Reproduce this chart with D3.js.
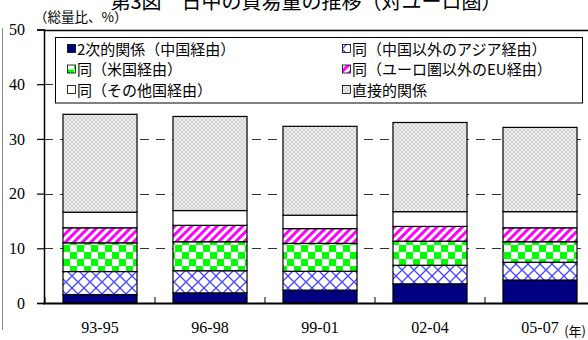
<!DOCTYPE html>
<html><head><meta charset="utf-8">
<script src="https://cdn.jsdelivr.net/npm/d3@7"></script>
<style>body{margin:0;background:#fff}svg{display:block}</style>
</head><body><svg id="chart" width="588" height="340"></svg>
<script>
// Trade volume shares by period (% of total)
const periods = ["93-95", "96-98", "99-01", "02-04", "05-07"];
const seriesNames = ["2次的関係（中国経由）", "同（中国以外のアジア経由）", "同（米国経由）",
  "同（ユーロ圏以外のEU経由）", "同（その他国経由）", "直接的関係"];
const viaChina     = [1.55, 1.85, 2.35, 3.5, 4.2];
const viaAsia      = [4.2, 4.05, 3.45, 3.4, 3.25];
const viaUS        = [5.25, 5.3, 5.1, 4.4, 3.75];
const viaNonEuroEU = [2.75, 3.0, 2.7, 2.7, 2.55];
const viaOther     = [2.85, 2.7, 2.45, 2.7, 2.95];
const direct       = [17.9, 17.2, 16.25, 16.3, 15.4];
const yTicks = [0, 10, 20, 30, 40, 50];

const seriesValues = [viaChina, viaAsia, viaUS, viaNonEuroEU, viaOther, direct];
const keys = ["china", "asia", "us", "eu", "other", "direct"];
const rows = periods.map((p, i) => {
  const r = {period: p};
  keys.forEach((k, j) => r[k] = seriesValues[j][i]);
  return r;
});

const SERIF = "'Liberation Serif', 'Times New Roman', serif";
const JP = "'Noto Sans CJK JP', 'Noto Sans', sans-serif";

const svg = d3.select("#chart");
const defs = svg.append("defs");

// fill patterns
const pAsia = defs.append("pattern").attr("id", "f-asia").attr("patternUnits", "userSpaceOnUse")
  .attr("width", 12).attr("height", 12);
pAsia.append("rect").attr("width", 12).attr("height", 12).attr("fill", "#fff");
pAsia.append("path").attr("d", "M0,0L12,12M12,0L0,12M-1,11L1,13M11,-1L13,1")
  .attr("stroke", "#4646ff").attr("stroke-width", 1.3).attr("fill", "none");

const pUS = defs.append("pattern").attr("id", "f-us").attr("patternUnits", "userSpaceOnUse")
  .attr("width", 14).attr("height", 14);
pUS.append("rect").attr("width", 14).attr("height", 14).attr("fill", "#fff");
pUS.append("rect").attr("width", 7).attr("height", 7).attr("fill", "#00ff00");
pUS.append("rect").attr("x", 7).attr("y", 7).attr("width", 7).attr("height", 7).attr("fill", "#00ff00");

const pEU = defs.append("pattern").attr("id", "f-eu").attr("patternUnits", "userSpaceOnUse")
  .attr("width", 6).attr("height", 6).attr("patternTransform", "rotate(45)");
pEU.append("rect").attr("width", 6).attr("height", 6).attr("fill", "#fff");
pEU.append("rect").attr("width", 3).attr("height", 6).attr("fill", "#ff00ff");

const pDirect = defs.append("pattern").attr("id", "f-direct").attr("patternUnits", "userSpaceOnUse")
  .attr("width", 4).attr("height", 4);
pDirect.append("rect").attr("width", 4).attr("height", 4).attr("fill", "#d2d2d2");
pDirect.append("path").attr("d", "M0,0L4,4M4,0L0,4")
  .attr("stroke", "#f2f2f2").attr("stroke-width", 0.9).attr("fill", "none");

const fills = {
  china: "#000080", asia: "url(#f-asia)", us: "url(#f-us)",
  eu: "url(#f-eu)", other: "#ffffff", direct: "url(#f-direct)"
};

const x = d3.scaleBand().domain(periods).range([45, 595])
  .paddingInner(0.327).paddingOuter(0.1635);
const y = d3.scaleLinear().domain([0, 50]).range([303, 29.5]);

// outer frame line on the left
svg.append("line").attr("x1", 2.5).attr("x2", 2.5).attr("y1", 28).attr("y2", 330)
  .attr("stroke", "#888").attr("stroke-width", 1);

// title (partially above the page edge)
svg.append("text").attr("x", 306).attr("y", 9).attr("text-anchor", "middle")
  .style("font-family", JP).style("font-size", "20px")
  .attr("fill", "#000")
  .text("第3図　日中の貿易量の推移（対ユーロ圏）");

// unit label
svg.append("text").attr("x", 34).attr("y", 22)
  .style("font-family", JP).style("font-size", "13.5px")
  .attr("fill", "#000").text("（総量比、%）");

// dashed gridlines
svg.append("g").selectAll("line").data(yTicks.filter(d => d > 0 && d < 50)).join("line")
  .attr("x1", 44).attr("x2", 588).attr("y1", d => Math.round(y(d)) + 0.5).attr("y2", d => Math.round(y(d)) + 0.5)
  .attr("stroke", "#333").attr("stroke-width", 1.2).attr("stroke-dasharray", "9,7");
// plot-area top border at the maximum
svg.append("line").attr("x1", 44).attr("x2", 588)
  .attr("y1", Math.round(y(50)) + 0.5).attr("y2", Math.round(y(50)) + 0.5)
  .attr("stroke", "#000").attr("stroke-width", 1.4);

// y axis
const yAxis = svg.append("g").attr("transform", "translate(44,0)")
  .call(d3.axisLeft(y).tickValues(yTicks).tickSize(7).tickPadding(12).tickFormat(d3.format("d")));
yAxis.select(".domain").attr("stroke", "#000").attr("stroke-width", 1.5);
yAxis.selectAll(".tick line").attr("stroke", "#000").attr("stroke-width", 1.2);
yAxis.selectAll("text").style("font-family", SERIF).style("font-size", "16px").attr("fill", "#000");

// stacked bars
const stack = d3.stack().keys(keys)(rows);
svg.append("g").selectAll("g").data(stack).join("g")
  .attr("fill", d => fills[d.key])
  .selectAll("rect").data(d => d).join("rect")
  .attr("x", d => x(d.data.period))
  .attr("width", x.bandwidth())
  .attr("y", d => y(d[1]))
  .attr("height", d => y(d[0]) - y(d[1]))
  .attr("stroke", "#000").attr("stroke-width", 1.2);

// x axis with tick marks between categories
const step = x.step();
const bounds = periods.map(p => x(p) - step * x.paddingInner() / 2)
  .concat([x(periods[periods.length - 1]) + x.bandwidth() + step * x.paddingInner() / 2]);
svg.append("g").selectAll("line").data(bounds).join("line")
  .attr("x1", d => d).attr("x2", d => d).attr("y1", 297).attr("y2", 303)
  .attr("stroke", "#000").attr("stroke-width", 1);
svg.append("line").attr("x1", 43).attr("x2", 588).attr("y1", 303.5).attr("y2", 303.5)
  .attr("stroke", "#000").attr("stroke-width", 2);

svg.append("g").selectAll("text").data(periods).join("text")
  .attr("x", d => x(d) + x.bandwidth() / 2).attr("y", 333).attr("text-anchor", "middle")
  .style("font-family", SERIF).style("font-size", "16px").attr("fill", "#000")
  .text(d => d);
svg.append("text").attr("x", 586).attr("y", 336).attr("text-anchor", "end")
  .style("font-family", JP).style("font-size", "13px").attr("fill", "#000")
  .text("(年)");

// legend
const legend = svg.append("g");
legend.append("rect").attr("x", 55.5).attr("y", 37.5).attr("width", 527).attr("height", 65.5)
  .attr("fill", "#fff").attr("stroke", "#000").attr("stroke-width", 1);
const colX = [67, 342];
const rowY = [49, 69.5, 90];
const items = legend.selectAll("g.item").data(keys).join("g").attr("class", "item")
  .attr("transform", (k, i) => `translate(${colX[i % 2]},${rowY[Math.floor(i / 2)]})`);
items.append("rect").attr("x", 0.5).attr("y", -4.5).attr("width", 8).attr("height", 8)
  .attr("fill", k => fills[k]).attr("stroke", "#000").attr("stroke-width", 0.8);
items.append("text").attr("x", 10).attr("y", 5.5)
  .style("font-family", JP).style("font-size", "15px").attr("fill", "#000")
  .text((k, i) => seriesNames[i]);
</script></body></html>
